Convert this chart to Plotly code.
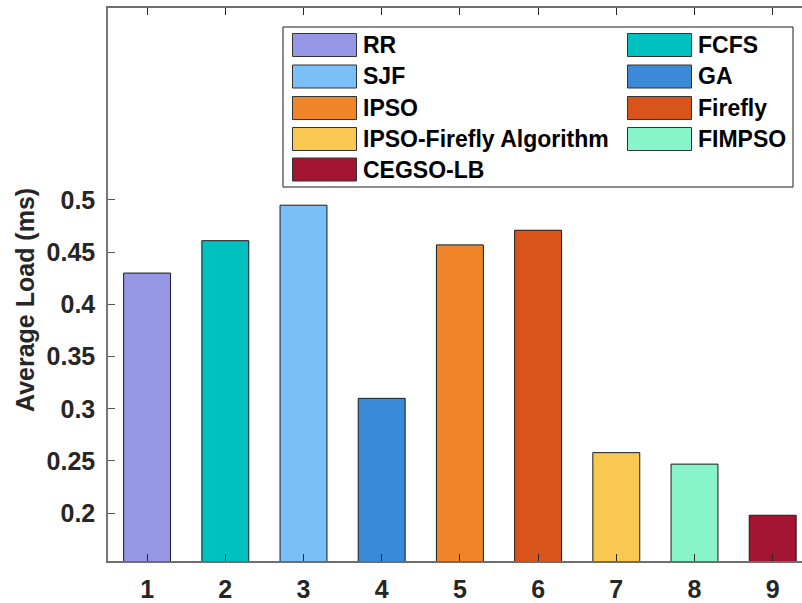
import plotly.graph_objects as go

# Average load per scheduling method
methods = ["RR", "FCFS", "SJF", "GA", "IPSO", "Firefly",
           "IPSO-Firefly Algorithm", "FIMPSO", "CEGSO-LB"]
positions = [1, 2, 3, 4, 5, 6, 7, 8, 9]
avg_load = [0.430, 0.461, 0.495, 0.310, 0.457, 0.471, 0.258, 0.247, 0.198]
colors = ["#9696E6", "#00C0C0", "#7BBFF8", "#3B8AD8", "#F08428",
          "#D9541A", "#F9C851", "#87F5C9", "#A2142F"]
y_ticks = [0.2, 0.25, 0.3, 0.35, 0.4, 0.45, 0.5]

# legend rows: two columns, filled row by row
legend_order = ["RR", "FCFS", "SJF", "GA", "IPSO", "Firefly",
                "IPSO-Firefly Algorithm", "FIMPSO", "CEGSO-LB"]

FONT = "Liberation Sans, Arial, sans-serif"
TXT = "#262626"
W, H = 802, 603
ML, MT, MB, MR = 108, 8, 42, 0
PW, PH = W - ML - MR, H - MT - MB


def px(x):
    return (x - ML) / PW


def py(y):
    return (H - MB - y) / PH


fig = go.Figure()
fig.add_trace(go.Bar(
    x=positions, y=avg_load, width=0.6,
    marker=dict(color=colors, line=dict(color="#1a1a1a", width=1)),
    showlegend=False, hoverinfo="x+y",
))

shapes = []
annotations = []
# legend frame
shapes.append(dict(type="rect", xref="paper", yref="paper",
                   x0=px(283), x1=px(793), y0=py(187), y1=py(27),
                   line=dict(color="#1a1a1a", width=1), fillcolor="white",
                   layer="above"))
color_of = dict(zip(methods, colors))
col_x = [292.5, 627.5]
row_y = [45, 76.5, 108, 139, 169.5]
for i, name in enumerate(legend_order):
    r, c = divmod(i, 2)
    x0 = col_x[c]
    yc = row_y[r]
    shapes.append(dict(type="rect", xref="paper", yref="paper",
                       x0=px(x0), x1=px(x0 + 64), y0=py(yc + 11.5), y1=py(yc - 11.5),
                       line=dict(color="#333333", width=1),
                       fillcolor=color_of[name], layer="above"))
    annotations.append(dict(xref="paper", yref="paper", x=px(x0 + 68), y=py(yc),
                            text=f"<b>{name}</b>", showarrow=False,
                            xanchor="left", yanchor="middle",
                            font=dict(family=FONT, size=23, color="#000000")))

# y-axis title
annotations.append(dict(xref="paper", yref="paper", x=px(25), y=py(300),
                        text="<b>Average Load (ms)</b>", textangle=-90,
                        showarrow=False, xanchor="center", yanchor="middle",
                        font=dict(family=FONT, size=25, color=TXT)))

fig.update_layout(
    width=W, height=H,
    margin=dict(l=ML, r=MR, t=MT, b=MB, pad=0),
    paper_bgcolor="white", plot_bgcolor="white",
    font=dict(family=FONT, color=TXT),
    shapes=shapes, annotations=annotations,
    showlegend=False,
)
fig.update_xaxes(
    range=[0.5, 0.5 + PW / 78.2],
    tickmode="array", tickvals=positions,
    ticktext=[f"<b>{p}</b>" for p in positions],
    tickfont=dict(family=FONT, size=25, color=TXT),
    ticks="inside", ticklen=7, tickcolor=TXT, tickwidth=1,
    showline=True, linecolor="#6e6e6e", linewidth=1.5, mirror="ticks",
    showgrid=False, zeroline=False, ticklabelstandoff=5,
)
fig.update_yaxes(
    range=[0.1542, 0.6839],
    tickmode="array", tickvals=y_ticks,
    ticktext=[f"<b>{v:g}</b>" for v in y_ticks],
    tickfont=dict(family=FONT, size=25, color=TXT),
    ticks="inside", ticklen=7, tickcolor="#555555", tickwidth=1,
    showline=True, linecolor="#777777", linewidth=1.5,
    showgrid=False, zeroline=False, ticklabelstandoff=6,
)

fig.write_html("out.html")
